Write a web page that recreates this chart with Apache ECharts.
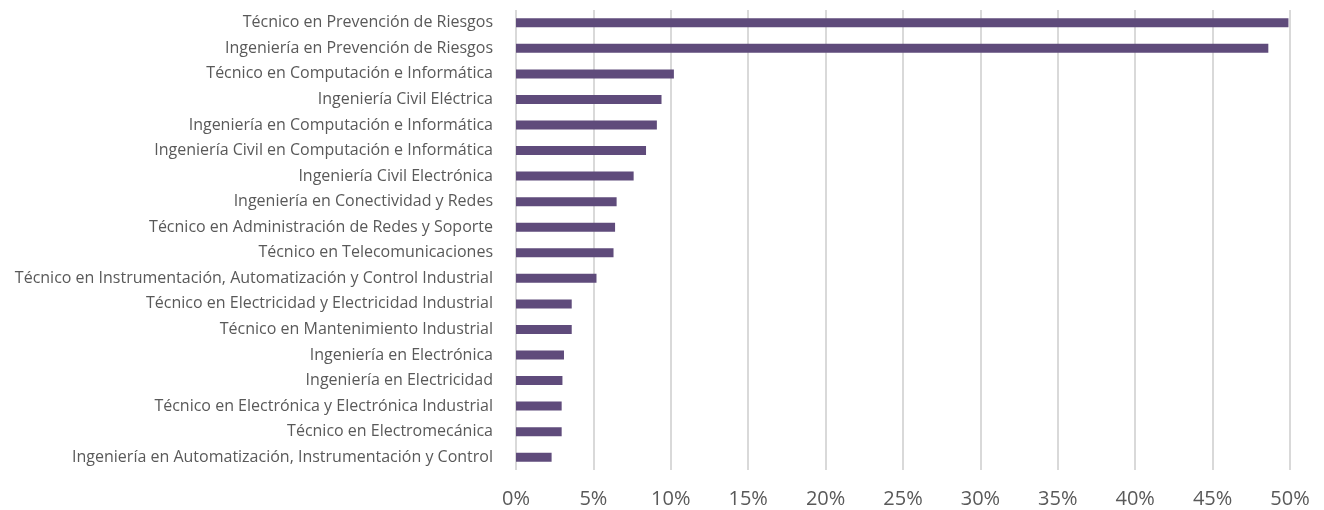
<!DOCTYPE html>
<html>
<head>
<meta charset="utf-8">
<script src="https://cdn.jsdelivr.net/npm/echarts@6/dist/echarts.min.js"></script>
<style>
  html, body { margin: 0; padding: 0; background: #ffffff; }
  #chart { width: 1324px; height: 510px; }
</style>
</head>
<body>
<div id="chart"></div>
<script>
// Programs, listed top to bottom
const categories = [
  "Técnico en Prevención de Riesgos",
  "Ingeniería en Prevención de Riesgos",
  "Técnico en Computación e Informática",
  "Ingeniería Civil Eléctrica",
  "Ingeniería en Computación e Informática",
  "Ingeniería Civil en Computación e Informática",
  "Ingeniería Civil Electrónica",
  "Ingeniería en Conectividad y Redes",
  "Técnico en Administración de Redes y Soporte",
  "Técnico en Telecomunicaciones",
  "Técnico en Instrumentación, Automatización y Control Industrial",
  "Técnico en Electricidad y Electricidad Industrial",
  "Técnico en Mantenimiento Industrial",
  "Ingeniería en Electrónica",
  "Ingeniería en Electricidad",
  "Técnico en Electrónica y Electrónica Industrial",
  "Técnico en Electromecánica",
  "Ingeniería en Automatización, Instrumentación y Control"
];

// Share per program, in percent
const shares = [
  49.9, 48.6, 10.2, 9.4, 9.1, 8.4, 7.6, 6.5, 6.4, 6.3,
  5.2, 3.6, 3.6, 3.1, 3.0, 2.95, 2.95, 2.3
];

// Value axis ticks
const axisMin = 0;
const axisMax = 50;
const axisStep = 5;

const chart = echarts.init(document.getElementById('chart'), null, { renderer: 'canvas' });

const fontFamily = '"Open Sans", "Noto Sans", sans-serif';

chart.setOption({
  animation: false,
  backgroundColor: '#ffffff',
  grid: { left: 516, right: 34, top: 10, bottom: 40, containLabel: false },
  xAxis: {
    type: 'value',
    min: axisMin,
    max: axisMax,
    interval: axisStep,
    axisLine: { show: false },
    axisTick: { show: false },
    axisLabel: {
      formatter: v => v + '%',
      color: '#595959',
      fontFamily: fontFamily,
      fontSize: 20,
      margin: 19
    },
    splitLine: { show: true, lineStyle: { color: '#d9d9d9', width: 2 } }
  },
  yAxis: {
    type: 'category',
    inverse: true,
    data: categories,
    axisLine: { show: false },
    axisTick: { show: false },
    axisLabel: {
      color: '#595959',
      fontFamily: fontFamily,
      fontSize: 16,
      margin: 23
    }
  },
  series: [{
    type: 'bar',
    data: shares,
    barWidth: 9,
    itemStyle: { color: '#5f4b7b' }
  }]
});
</script>
</body>
</html>
